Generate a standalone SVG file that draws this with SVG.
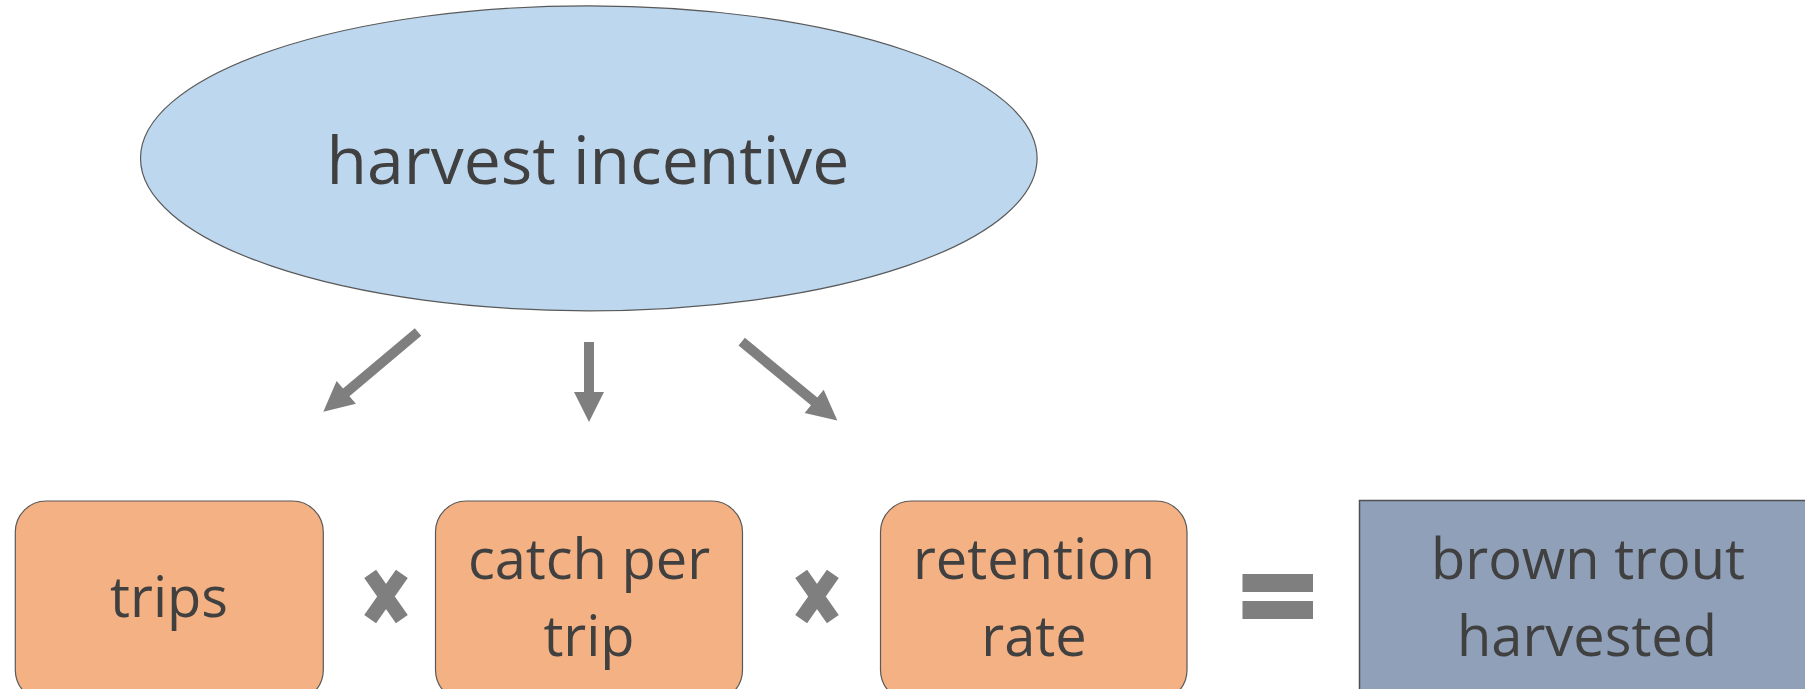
<svg xmlns="http://www.w3.org/2000/svg" width="1805" height="689" viewBox="0 0 1805 689">
  <style>
    .lbl { font-family: "Open Sans", "Noto Sans", "Liberation Sans", sans-serif; fill: #404040; text-anchor: middle; }
    .big { font-size: 66px; }
    .box { font-size: 56px; }
    .orange { fill: #F4B183; stroke: #595959; stroke-width: 1.2; }
    .op { fill: #7F7F7F; }
    .times { stroke: #7F7F7F; stroke-width: 14.5; stroke-linecap: butt; fill: none; }
  </style>
  <rect x="0" y="0" width="1805" height="689" fill="#FFFFFF"/>

  <g id="harvest-incentive">
    <ellipse cx="588.8" cy="158.3" rx="448.3" ry="152.5" fill="#BDD7EE" stroke="#595959" stroke-width="1.2"/>
    <text class="lbl big" x="588" y="184">harvest incentive</text>
  </g>

  <g id="connectors" class="op">
    <polygon points="414.78,328.17 343.03,388.56 336.59,380.92 323.3,411.7 355.91,403.86 349.47,396.22 421.22,335.83"/>
    <polygon points="584,342 584,392 574,392 589,422 604,392 594,392 594,342"/>
    <polygon points="738.52,345.56 810.97,405.28 804.61,412.99 837.3,420.5 823.69,389.85 817.33,397.56 744.88,337.84"/>
  </g>

  <g id="trips">
    <rect class="orange" x="15.3" y="501" width="308" height="200" rx="31" ry="31"/>
    <text class="lbl box" x="169" y="617">trips</text>
  </g>

  <g id="times-1" class="times">
    <path d="M370.16,573.9 L401.84,619.1 M401.84,573.9 L370.16,619.1"/>
  </g>

  <g id="catch-per-trip">
    <rect class="orange" x="435.5" y="501" width="307" height="200" rx="31" ry="31"/>
    <text class="lbl box" x="589" y="579">catch per</text>
    <text class="lbl box" x="589" y="656">trip</text>
  </g>

  <g id="times-2" class="times">
    <path d="M801.16,573.9 L832.84,619.1 M832.84,573.9 L801.16,619.1"/>
  </g>

  <g id="retention-rate">
    <rect class="orange" x="880.5" y="501" width="306.5" height="200" rx="31" ry="31"/>
    <text class="lbl box" x="1034" y="579">retention</text>
    <text class="lbl box" x="1034" y="656">rate</text>
  </g>

  <g id="equals" class="op">
    <rect x="1242.5" y="574" width="70.5" height="18"/>
    <rect x="1242.5" y="601" width="70.5" height="18"/>
  </g>

  <g id="brown-trout-harvested">
    <rect x="1359.5" y="500.5" width="460" height="210" fill="#8FA0B8" stroke="#505050" stroke-width="1.5"/>
    <text class="lbl box" x="1588" y="579">brown trout</text>
    <text class="lbl box" x="1587" y="656">harvested</text>
  </g>
</svg>
